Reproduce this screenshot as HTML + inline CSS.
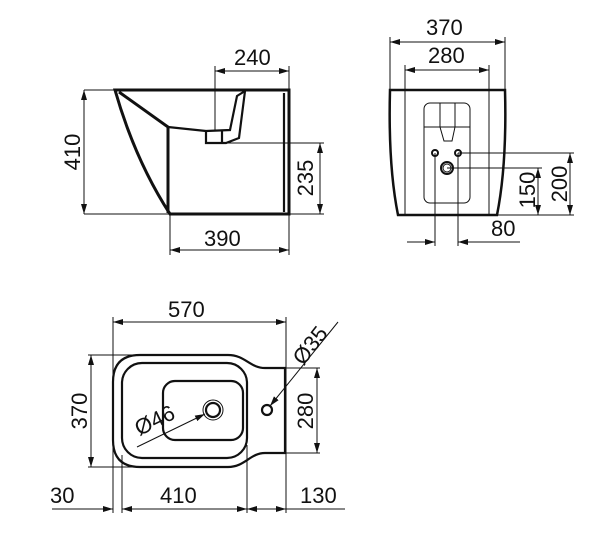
<!DOCTYPE html>
<html><head><meta charset="utf-8"><style>
html,body{margin:0;padding:0;background:#fff;}
svg{display:block;}
text{font-family:"Liberation Sans",Arial,sans-serif;font-size:22px;fill:#111;}
</style></head><body>
<svg width="600" height="537" viewBox="0 0 600 537" xmlns="http://www.w3.org/2000/svg">
<defs>
<marker id="a" viewBox="0 0 10 6" refX="10" refY="3" markerWidth="10" markerHeight="6" orient="auto-start-reverse" markerUnits="userSpaceOnUse"><path d="M0,0 L10,3 L0,6 z" fill="#111"/></marker>
</defs>
<g stroke="#111" stroke-width="1" fill="none">
<line x1="84" y1="90" x2="115" y2="90"/><line x1="84" y1="214" x2="170" y2="214"/>
<line x1="84" y1="90" x2="84" y2="214" marker-start="url(#a)" marker-end="url(#a)"/>
<line x1="215" y1="66" x2="215" y2="131"/><line x1="289" y1="66" x2="289" y2="90"/>
<line x1="215" y1="71" x2="289" y2="71" marker-start="url(#a)" marker-end="url(#a)"/>
<line x1="205" y1="143" x2="324" y2="143"/><line x1="289" y1="214" x2="324" y2="214"/>
<line x1="320" y1="143" x2="320" y2="214" marker-start="url(#a)" marker-end="url(#a)"/>
<line x1="170" y1="214" x2="170" y2="255"/><line x1="289" y1="214" x2="289" y2="255"/>
<line x1="170" y1="250" x2="289" y2="250" marker-start="url(#a)" marker-end="url(#a)"/>
</g>
<g stroke="#111" stroke-width="3" fill="none" stroke-linejoin="miter">
<path d="M115,90 L289,90 L289,214 L170,214 Q135,160 115,90 Z"/>
<path d="M119,92 L168,127 L168,213"/>
</g>
<g stroke="#111" stroke-width="2.2" fill="none">
<path d="M168,127 L206,131 L230,130 L237,96 L245,91"/>
<path d="M206,131 L206,143 L226,143 L239,138 L245,91"/>
<path d="M222,131 L222,143"/><path d="M284,93 L284,212"/>
</g>
<text x="234" y="65">240</text>
<text x="204" y="246">390</text>
<text transform="translate(80,152) rotate(-90)" text-anchor="middle">410</text>
<text transform="translate(313,178) rotate(-90)" text-anchor="middle">235</text>

<g stroke="#111" stroke-width="1" fill="none">
<line x1="390" y1="37" x2="390" y2="90"/><line x1="505" y1="37" x2="505" y2="90"/>
<line x1="390" y1="42" x2="505" y2="42" marker-start="url(#a)" marker-end="url(#a)"/>
<line x1="405" y1="65" x2="405" y2="215"/><line x1="489" y1="65" x2="489" y2="215"/>
<line x1="405" y1="70" x2="489" y2="70" marker-start="url(#a)" marker-end="url(#a)"/>
<line x1="458" y1="153" x2="574" y2="153"/><line x1="447" y1="168" x2="542" y2="168"/><line x1="497" y1="215" x2="574" y2="215"/>
<line x1="538" y1="168" x2="538" y2="215" marker-start="url(#a)" marker-end="url(#a)"/>
<line x1="570" y1="153" x2="570" y2="215" marker-start="url(#a)" marker-end="url(#a)"/>
<line x1="435" y1="153" x2="435" y2="246"/><line x1="458" y1="153" x2="458" y2="246"/>
<line x1="407" y1="242" x2="435" y2="242" marker-end="url(#a)"/>
<line x1="520" y1="242" x2="458" y2="242" marker-end="url(#a)"/>
<rect x="424" y="103" width="46" height="100" rx="6"/>
<path d="M424,127 L470,127 M440,103 L440,127 L444,141 L452,141 L455,127 L455,103"/>
<circle cx="447" cy="168" r="4"/>
</g>
<path d="M390,90 L505,90 Q507,165 497,215 L398,215 Q388,165 390,90 Z" stroke="#111" stroke-width="2.5" fill="none"/>
<circle cx="435" cy="153" r="3" stroke="#111" stroke-width="2" fill="none"/>
<circle cx="458" cy="153" r="3" stroke="#111" stroke-width="2" fill="none"/>
<circle cx="447" cy="168" r="6" stroke="#111" stroke-width="2" fill="none"/>
<text x="426" y="35">370</text>
<text x="428" y="63">280</text>
<text x="491" y="236">80</text>
<text transform="translate(535,190) rotate(-90)" text-anchor="middle">150</text>
<text transform="translate(567,184) rotate(-90)" text-anchor="middle">200</text>

<g stroke="#111" stroke-width="1" fill="none">
<line x1="113" y1="317" x2="113" y2="513"/><line x1="286" y1="317" x2="286" y2="513"/>
<line x1="113" y1="322" x2="286" y2="322" marker-start="url(#a)" marker-end="url(#a)"/>
<line x1="88" y1="355" x2="150" y2="355"/><line x1="88" y1="467" x2="150" y2="467"/>
<line x1="91" y1="355" x2="91" y2="467" marker-start="url(#a)" marker-end="url(#a)"/>
<line x1="286" y1="368" x2="320" y2="368"/><line x1="286" y1="453" x2="320" y2="453"/>
<line x1="317" y1="368" x2="317" y2="453" marker-start="url(#a)" marker-end="url(#a)"/>
<line x1="122" y1="455" x2="122" y2="513"/><line x1="247" y1="445" x2="247" y2="513"/>
<line x1="52" y1="509" x2="113" y2="509" marker-end="url(#a)"/>
<line x1="122" y1="509" x2="247" y2="509" marker-start="url(#a)" marker-end="url(#a)"/>
<line x1="247" y1="509" x2="286" y2="509" marker-start="url(#a)" marker-end="url(#a)"/>
<line x1="286" y1="509" x2="345" y2="509"/>
<line x1="338" y1="322" x2="270" y2="406" marker-end="url(#a)"/>
<line x1="137" y1="447" x2="205" y2="414" marker-end="url(#a)"/>
<circle cx="213" cy="410" r="10"/>
</g>
<g stroke="#111" stroke-width="2.2" fill="none">
<path d="M140,355 L228,355 C245,355 250,368 265,368 L285,368 L285,453 L265,453 C250,453 245,467 228,467 L140,467 Q113,467 113,440 L113,382 Q113,355 140,355 Z"/>
<rect x="122" y="363" width="125" height="95" rx="20"/>
<rect x="163" y="381" width="80" height="59" rx="12"/>
<circle cx="213" cy="410" r="7"/>
<circle cx="267" cy="410" r="5"/>
</g>
<text x="168" y="317">570</text>
<text x="50" y="503">30</text>
<text x="160" y="503">410</text>
<text x="300" y="503">130</text>
<text transform="translate(87,411) rotate(-90)" text-anchor="middle">370</text>
<text transform="translate(313,411) rotate(-90)" text-anchor="middle">280</text>
<text transform="translate(316,350) rotate(-52)" text-anchor="middle">Ø35</text>
<text transform="translate(158,427) rotate(-26)" text-anchor="middle">Ø46</text>
</svg>
</body></html>
